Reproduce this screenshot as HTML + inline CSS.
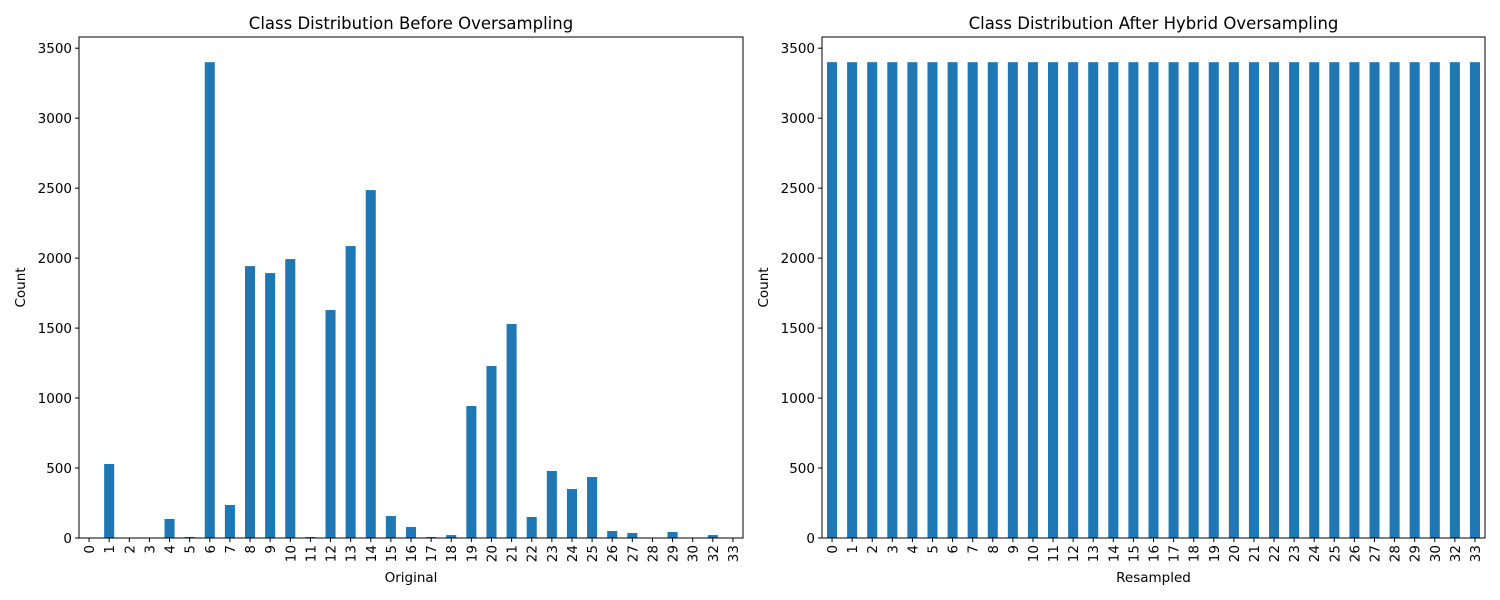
<!DOCTYPE html>
<html><head><meta charset="utf-8"><style>
body{margin:0;background:#fff}
svg{display:block;font-family:"DejaVu Sans","Liberation Sans",sans-serif}
</style></head><body>
<svg id="c" width="1500" height="600"></svg>
<script>
const categories=["0","1","2","3","4","5","6","7","8","9","10","11","12","13","14","15","16","17","18","19","20","21","22","23","24","25","26","27","28","29","30","32","33"];
const originalCounts=[0,529,0,0,136,7,3400,236,1943,1893,1993,7,1629,2086,2486,157,79,7,21,943,1229,1529,150,479,350,436,50,36,0,43,0,21,0];
const resampledCounts=categories.map(()=>3400);
const yTicks=[0,500,1000,1500,2000,2500,3000,3500];
const yMax=3580;
const svg=document.getElementById('c');
const NS='http://www.w3.org/2000/svg';
function mk(t,a,p){const e=document.createElementNS(NS,t);for(const k in a)e.setAttribute(k,a[k]);(p||svg).appendChild(e);return e;}
function panel(x0,x1,vals,title,xlabel,key){
  const y0=37,y1=538;
  const g=mk('g',{});
  
  
  const ys=v=>y1-v*(y1-y0)/yMax;
  const step=(x1-x0)/categories.length;
  const xs=i=>x0+step*(i+0.5);
  vals.forEach((v,i)=>{
    const r=mk('rect',{x:xs(i)-step/4,y:ys(v),width:step/2,height:y1-ys(v),fill:'#1f77b4'},g);
    
    
  });
  const fr=mk('rect',{x:x0,y:y0,width:x1-x0,height:y1-y0,fill:'none',stroke:'#000','stroke-width':1},g);
  
  
  yTicks.forEach(t=>{
    const y=ys(t);
    mk('line',{x1:x0-4,x2:x0,y1:y,y2:y,stroke:'#000'},g);
    const tx=mk('text',{x:x0-7,y:y+5,'text-anchor':'end','font-size':13.5},g);
    tx.textContent=t;
    
    
  });
  categories.forEach((c,i)=>{
    const x=xs(i);
    mk('line',{x1:x,x2:x,y1:y1,y2:y1+4,stroke:'#000'},g);
    const tx=mk('text',{x:x+5,y:y1+7,'text-anchor':'end','font-size':13.5,transform:`rotate(-90 ${x+5} ${y1+7})`},g);
    tx.textContent=c;
    
    
  });
  const tt=mk('text',{x:(x0+x1)/2,y:29,'text-anchor':'middle','font-size':16.5},g);
  tt.textContent=title;
  
  
  const xl=mk('text',{x:(x0+x1)/2,y:582,'text-anchor':'middle','font-size':13.5},g);
  xl.textContent=xlabel;
  
  
  const cy=(y0+y1)/2, cx=x0-54;
  const yl=mk('text',{x:cx,y:cy,'text-anchor':'middle','font-size':13.5,transform:`rotate(-90 ${cx} ${cy})`},g);
  yl.textContent='Count';
  
  
}
panel(79,743,originalCounts,'Class Distribution Before Oversampling','Original','before');
panel(822,1485,resampledCounts,'Class Distribution After Hybrid Oversampling','Resampled','after');
</script>
</body></html>
